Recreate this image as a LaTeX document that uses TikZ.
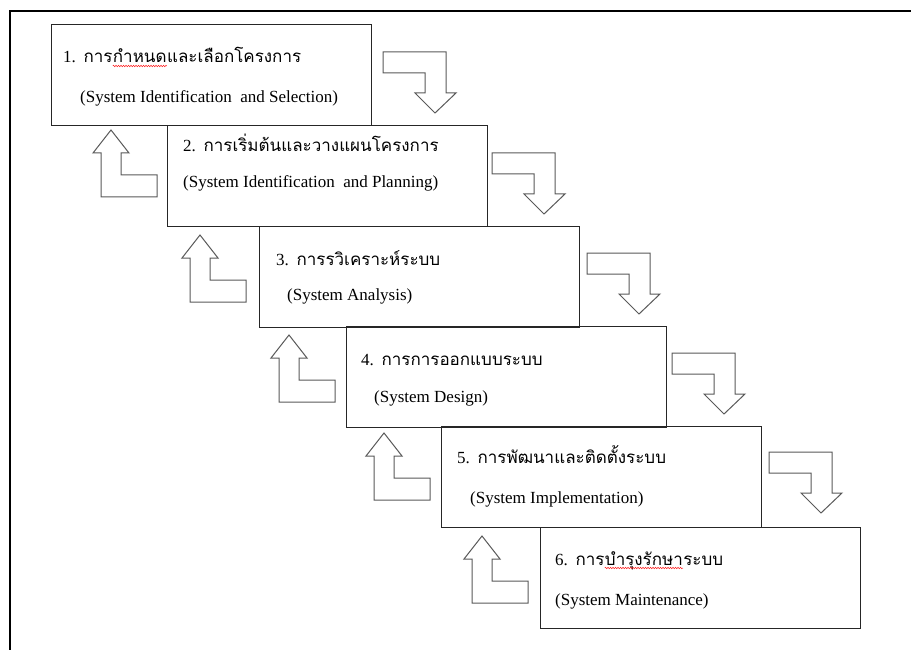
\documentclass[tikz,border=0pt]{standalone}
\usepackage{fontspec}
\setmainfont{Liberation Serif}
\newfontfamily\thaifont[Script=Thai]{Loma}
\usepackage{tikz}
\usetikzlibrary{decorations.pathmorphing}

\tikzset{
  stage/.style={draw=black!85, line width=1pt, minimum width=320, minimum height=101,
    anchor=north west, inner sep=0pt},
  thailine/.style={anchor=base west, inner sep=0pt, font=\fontsize{17}{20}\thaifont},
  engline/.style={anchor=base west, inner sep=0pt, font=\fontsize{17}{20}\selectfont},
  spellmark/.style={draw=red!85, line width=0.5pt,
    decorate, decoration={snake, amplitude=0.8pt, segment length=2.5pt}},
  blockarrow/.style={draw=black!65, line width=1pt, fill=white},
  % bent arrow going right then down
  pics/turndown/.style={code={
    \draw[blockarrow] (0,0) -- (63,0) -- (63,41) -- (73,41) -- (52,61) -- (32,41)
      -- (42,41) -- (42,21) -- (0,21) -- cycle;}},
  % bent arrow going left then up, origin at its tip
  pics/turnup/.style={code={
    \draw[blockarrow] (0,0) -- (18,23) -- (10,23) -- (10,45) -- (46,45) -- (46,67)
      -- (-10,67) -- (-10,23) -- (-18,23) -- cycle;}}
}

\newcommand\numfont{\fontsize{17}{20}\rmfamily}

\begin{document}
\begin{tikzpicture}[x=1pt,y=-1pt]
		\useasboundingbox (0,0) rectangle (911,650);
		% frame
		\draw[line width=2pt] (10,650) -- (10,11) -- (911,11);
		
		% stages
		\node[stage] (box1) at (51,24) {};
		\node[stage] (box2) at (167,125) {};
		\node[stage] (box3) at (259,226) {};
		\node[stage] (box4) at (346,326) {};
		\node[stage] (box5) at (441,426) {};
		\node[stage] (box6) at (540,527) {};
		
		% stage texts
		\node[thailine] (th1) at (63,63) {{\numfont 1.} การ};
		\node[thailine] (th1w) at (th1.base east) {กำหนด};
		\node[thailine] (th1r) at (th1w.base east) {และเลือกโครงการ};
		\node[engline] (en1) at (80,103) {(System Identification~ and Selection)};
		\node[thailine] (th2) at (183,152) {{\numfont 2.} การเริ่มต้นและวางแผนโครงการ};
		\node[engline] (en2) at (183,188) {(System Identification~ and Planning)};
		\node[thailine] (th3) at (276,265) {{\numfont 3.} การรวิเคราะห์ระบบ};
		\node[engline] (en3) at (287,300) {(System Analysis)};
		\node[thailine] (th4) at (361,365) {{\numfont 4.} การการออกแบบระบบ};
		\node[engline] (en4) at (374,402) {(System Design)};
		\node[thailine] (th5) at (457,463) {{\numfont 5.} การพัฒนาและติดตั้งระบบ};
		\node[engline] (en5) at (470,503) {(System Implementation)};
		\node[thailine] (th6) at (555,565) {{\numfont 6.} การ};
		\node[thailine] (th6w) at (th6.base east) {บำรุงรักษา};
		\node[thailine] (th6r) at (th6w.base east) {ระบบ};
		\node[engline] (en6) at (555,605) {(System Maintenance)};
		
		% spell-check marks
		\draw[spellmark] ([yshift=-3pt]th1w.base west) -- ([yshift=-3pt]th1w.base east);
		\draw[spellmark] ([yshift=-3pt]th6w.base west) -- ([yshift=-3pt]th6w.base east);
		
		% forward arrows
		\pic at (383,52) {turndown};
		\pic at (492,153) {turndown};
		\pic at (587,253) {turndown};
		\pic at (672,353) {turndown};
		\pic at (769,452) {turndown};
		
		% feedback arrows
		\pic at (111,130) {turnup};
		\pic at (200,235) {turnup};
		\pic at (289,335) {turnup};
		\pic at (384,433) {turnup};
		\pic at (482,536) {turnup};
		
\end{tikzpicture}
\end{document}
